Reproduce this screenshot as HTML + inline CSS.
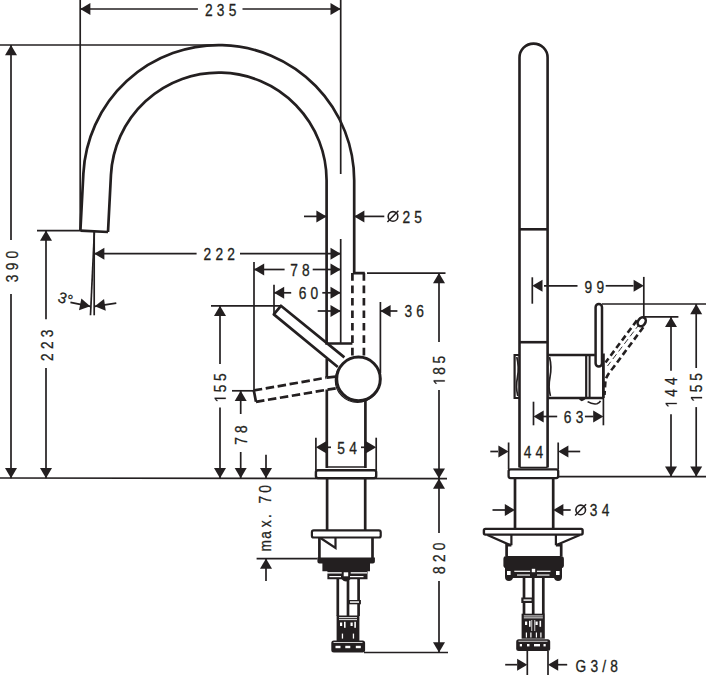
<!DOCTYPE html>
<html><head><meta charset="utf-8"><style>
html,body{margin:0;padding:0;background:#fff;}
svg{display:block;}
text{font-family:"Liberation Sans",sans-serif;fill:#231f20;stroke:#231f20;stroke-width:0.3px;}
</style></head><body>
<svg width="706" height="675" viewBox="0 0 706 675" stroke="#231f20" fill="none">
<line x1="80.2" y1="9" x2="197.9" y2="9" stroke-width="1.7" stroke-linecap="butt"/>
<line x1="242.5" y1="9" x2="340.7" y2="9" stroke-width="1.7" stroke-linecap="butt"/>
<polygon points="80.20,9.00 90.40,3.00 90.40,15.00" stroke="none" fill="#231f20"/>
<polygon points="340.70,9.00 330.50,15.00 330.50,3.00" stroke="none" fill="#231f20"/>
<text transform="translate(220.60,9.40) scale(0.86,1)" x="2.45" y="6.48" font-size="16" letter-spacing="4.9" text-anchor="middle">235</text>
<line x1="80.2" y1="0" x2="80.2" y2="230.6" stroke-width="1.7" stroke-linecap="butt"/>
<line x1="340.7" y1="0" x2="340.7" y2="174" stroke-width="1.7" stroke-linecap="butt"/>
<line x1="340.7" y1="239" x2="340.7" y2="343" stroke-width="1.7" stroke-linecap="butt"/>
<line x1="0" y1="45" x2="217" y2="45" stroke-width="1.7" stroke-linecap="butt"/>
<line x1="11" y1="45" x2="11" y2="240" stroke-width="1.7" stroke-linecap="butt"/>
<line x1="11" y1="294" x2="11" y2="478.2" stroke-width="1.7" stroke-linecap="butt"/>
<polygon points="11.00,45.00 17.00,55.20 5.00,55.20" stroke="none" fill="#231f20"/>
<polygon points="11.00,478.20 5.00,468.00 17.00,468.00" stroke="none" fill="#231f20"/>
<text transform="translate(12.10,266.50) rotate(-90) scale(0.86,1)" x="2.45" y="5.58" font-size="16" letter-spacing="4.9" text-anchor="middle">390</text>
<line x1="37" y1="230.6" x2="80.5" y2="230.6" stroke-width="1.7" stroke-linecap="butt"/>
<line x1="46" y1="230.6" x2="46" y2="319.3" stroke-width="1.7" stroke-linecap="butt"/>
<line x1="46" y1="368" x2="46" y2="478.2" stroke-width="1.7" stroke-linecap="butt"/>
<polygon points="46.00,230.60 52.00,240.80 40.00,240.80" stroke="none" fill="#231f20"/>
<polygon points="46.00,478.20 40.00,468.00 52.00,468.00" stroke="none" fill="#231f20"/>
<text transform="translate(47.30,345.20) rotate(-90) scale(0.86,1)" x="2.45" y="5.58" font-size="16" letter-spacing="4.9" text-anchor="middle">223</text>
<line x1="94.2" y1="231" x2="94.2" y2="315.3" stroke-width="1.7" stroke-linecap="butt"/>
<line x1="94.4" y1="231" x2="90.5" y2="315.3" stroke-width="1.7" stroke-linecap="butt"/>
<line x1="70.4" y1="302.4" x2="90.2" y2="306.3" stroke-width="1.7" stroke-linecap="butt"/>
<polygon points="90.20,306.30 79.03,310.22 81.35,298.44" stroke="none" fill="#231f20"/>
<line x1="116.3" y1="303.2" x2="94.8" y2="306.3" stroke-width="1.7" stroke-linecap="butt"/>
<polygon points="94.80,306.30 104.04,298.91 105.75,310.78" stroke="none" fill="#231f20"/>
<g transform="translate(65.5,298.8) rotate(18)"><text x="0" y="5.2" font-size="15" text-anchor="middle">3°</text></g>
<line x1="94.2" y1="253.7" x2="196.6" y2="253.7" stroke-width="1.7" stroke-linecap="butt"/>
<line x1="240" y1="253.7" x2="340.7" y2="253.7" stroke-width="1.7" stroke-linecap="butt"/>
<polygon points="94.20,253.70 104.40,247.70 104.40,259.70" stroke="none" fill="#231f20"/>
<polygon points="340.70,253.70 330.50,259.70 330.50,247.70" stroke="none" fill="#231f20"/>
<text transform="translate(219.20,253.70) scale(0.86,1)" x="2.45" y="6.48" font-size="16" letter-spacing="4.9" text-anchor="middle">222</text>
<line x1="254" y1="262" x2="254" y2="390.5" stroke-width="1.7" stroke-linecap="butt"/>
<line x1="254" y1="269.5" x2="284.6" y2="269.5" stroke-width="1.7" stroke-linecap="butt"/>
<line x1="312.7" y1="269.5" x2="340.7" y2="269.5" stroke-width="1.7" stroke-linecap="butt"/>
<polygon points="254.00,269.50 264.20,263.50 264.20,275.50" stroke="none" fill="#231f20"/>
<polygon points="340.70,269.50 330.50,275.50 330.50,263.50" stroke="none" fill="#231f20"/>
<text transform="translate(300.00,269.50) scale(0.86,1)" x="2.45" y="6.48" font-size="16" letter-spacing="4.9" text-anchor="middle">78</text>
<line x1="274" y1="284.7" x2="274" y2="313.8" stroke-width="1.7" stroke-linecap="butt"/>
<line x1="274" y1="292.8" x2="291.2" y2="292.8" stroke-width="1.7" stroke-linecap="butt"/>
<line x1="322.3" y1="292.8" x2="340.7" y2="292.8" stroke-width="1.7" stroke-linecap="butt"/>
<polygon points="274.00,292.80 284.20,286.80 284.20,298.80" stroke="none" fill="#231f20"/>
<polygon points="340.70,292.80 330.50,298.80 330.50,286.80" stroke="none" fill="#231f20"/>
<text transform="translate(308.50,292.90) scale(0.86,1)" x="2.45" y="6.48" font-size="16" letter-spacing="4.9" text-anchor="middle">60</text>
<line x1="317.7" y1="311" x2="340.7" y2="311" stroke-width="1.7" stroke-linecap="butt"/>
<polygon points="340.70,311.00 330.50,317.00 330.50,305.00" stroke="none" fill="#231f20"/>
<line x1="380.4" y1="302" x2="380.4" y2="373" stroke-width="1.7" stroke-linecap="butt"/>
<line x1="380.4" y1="311" x2="397.4" y2="311" stroke-width="1.7" stroke-linecap="butt"/>
<polygon points="380.40,311.00 390.60,305.00 390.60,317.00" stroke="none" fill="#231f20"/>
<text transform="translate(414.20,311.00) scale(0.86,1)" x="2.45" y="6.48" font-size="16" letter-spacing="4.9" text-anchor="middle">36</text>
<line x1="211" y1="305.8" x2="281" y2="305.8" stroke-width="1.7" stroke-linecap="butt"/>
<line x1="220" y1="305.8" x2="220" y2="364" stroke-width="1.7" stroke-linecap="butt"/>
<line x1="220" y1="407.6" x2="220" y2="478.2" stroke-width="1.7" stroke-linecap="butt"/>
<polygon points="220.00,305.80 226.00,316.00 214.00,316.00" stroke="none" fill="#231f20"/>
<polygon points="220.00,478.20 214.00,468.00 226.00,468.00" stroke="none" fill="#231f20"/>
<g transform="translate(220.20,398.30) rotate(-90) scale(0.86,1)"><path transform="translate(-4.730,5.504) scale(0.00781,-0.00781)" d="M515,0 L515,1237 L197,1010 L197,1180 L530,1409 L696,1409 L696,0 Z" fill="#231f20" stroke="#231f20" stroke-width="0.3" vector-effect="non-scaling-stroke"/></g>
<text transform="translate(220.20,388.40) rotate(-90) scale(0.86,1)" x="0" y="5.50" font-size="16" text-anchor="middle">5</text>
<text transform="translate(220.20,377.10) rotate(-90) scale(0.86,1)" x="0" y="5.50" font-size="16" text-anchor="middle">5</text>
<line x1="232" y1="390.8" x2="254" y2="390.8" stroke-width="1.7" stroke-linecap="butt"/>
<line x1="240.7" y1="390.8" x2="240.7" y2="414" stroke-width="1.7" stroke-linecap="butt"/>
<line x1="240.7" y1="452" x2="240.7" y2="478.2" stroke-width="1.7" stroke-linecap="butt"/>
<polygon points="240.70,390.80 246.70,401.00 234.70,401.00" stroke="none" fill="#231f20"/>
<polygon points="240.70,478.20 234.70,468.00 246.70,468.00" stroke="none" fill="#231f20"/>
<text transform="translate(241.50,435.00) rotate(-90) scale(0.86,1)" x="2.45" y="5.58" font-size="16" letter-spacing="4.9" text-anchor="middle">78</text>
<line x1="266" y1="454.8" x2="266" y2="478.2" stroke-width="1.7" stroke-linecap="butt"/>
<polygon points="266.00,478.20 260.00,468.00 272.00,468.00" stroke="none" fill="#231f20"/>
<line x1="256.6" y1="558.6" x2="317.5" y2="558.6" stroke-width="1.7" stroke-linecap="butt"/>
<line x1="266" y1="558.6" x2="266" y2="581" stroke-width="1.7" stroke-linecap="butt"/>
<polygon points="266.00,558.60 272.00,568.80 260.00,568.80" stroke="none" fill="#231f20"/>
<text transform="translate(265.30,545.90) rotate(-90) scale(0.86,1)" x="0" y="5.50" font-size="16" text-anchor="middle">m</text>
<text transform="translate(265.30,534.90) rotate(-90) scale(0.86,1)" x="0" y="5.50" font-size="16" text-anchor="middle">a</text>
<text transform="translate(265.30,523.90) rotate(-90) scale(0.86,1)" x="0" y="5.50" font-size="16" text-anchor="middle">x</text>
<text transform="translate(265.30,516.20) rotate(-90) scale(0.86,1)" x="0" y="5.50" font-size="16" text-anchor="middle">.</text>
<text transform="translate(265.30,499.70) rotate(-90) scale(0.86,1)" x="0" y="5.50" font-size="16" text-anchor="middle">7</text>
<text transform="translate(265.30,489.00) rotate(-90) scale(0.86,1)" x="0" y="5.50" font-size="16" text-anchor="middle">0</text>
<line x1="367" y1="273.1" x2="445.5" y2="273.1" stroke-width="1.7" stroke-linecap="butt"/>
<line x1="439" y1="273.1" x2="439" y2="342" stroke-width="1.7" stroke-linecap="butt"/>
<line x1="439" y1="390" x2="439" y2="478.6" stroke-width="1.7" stroke-linecap="butt"/>
<polygon points="439.00,273.10 445.00,283.30 433.00,283.30" stroke="none" fill="#231f20"/>
<polygon points="439.00,478.60 433.00,468.40 445.00,468.40" stroke="none" fill="#231f20"/>
<g transform="translate(439.20,380.90) rotate(-90) scale(0.86,1)"><path transform="translate(-4.730,5.504) scale(0.00781,-0.00781)" d="M515,0 L515,1237 L197,1010 L197,1180 L530,1409 L696,1409 L696,0 Z" fill="#231f20" stroke="#231f20" stroke-width="0.3" vector-effect="non-scaling-stroke"/></g>
<text transform="translate(439.20,371.00) rotate(-90) scale(0.86,1)" x="0" y="5.50" font-size="16" text-anchor="middle">8</text>
<text transform="translate(439.20,359.60) rotate(-90) scale(0.86,1)" x="0" y="5.50" font-size="16" text-anchor="middle">5</text>
<line x1="439" y1="478.6" x2="439" y2="533" stroke-width="1.7" stroke-linecap="butt"/>
<line x1="439" y1="581" x2="439" y2="652.5" stroke-width="1.7" stroke-linecap="butt"/>
<polygon points="439.00,478.60 445.00,488.80 433.00,488.80" stroke="none" fill="#231f20"/>
<polygon points="439.00,652.50 433.00,642.30 445.00,642.30" stroke="none" fill="#231f20"/>
<line x1="364" y1="652.5" x2="448" y2="652.5" stroke-width="1.7" stroke-linecap="butt"/>
<text transform="translate(439.30,558.20) rotate(-90) scale(0.86,1)" x="2.45" y="5.58" font-size="16" letter-spacing="4.9" text-anchor="middle">820</text>
<line x1="315.9" y1="437.7" x2="315.9" y2="470" stroke-width="1.7" stroke-linecap="butt"/>
<line x1="376.2" y1="437.7" x2="376.2" y2="470" stroke-width="1.7" stroke-linecap="butt"/>
<polygon points="315.90,447.30 326.10,441.30 326.10,453.30" stroke="none" fill="#231f20"/>
<polygon points="376.20,447.30 366.00,453.30 366.00,441.30" stroke="none" fill="#231f20"/>
<line x1="326" y1="447.3" x2="331" y2="447.3" stroke-width="1.7" stroke-linecap="butt"/>
<line x1="361" y1="447.3" x2="366" y2="447.3" stroke-width="1.7" stroke-linecap="butt"/>
<text transform="translate(347.10,447.30) scale(0.86,1)" x="2.45" y="6.48" font-size="16" letter-spacing="4.9" text-anchor="middle">54</text>
<line x1="304" y1="216.4" x2="326.4" y2="216.4" stroke-width="1.7" stroke-linecap="butt"/>
<polygon points="326.60,216.40 316.40,222.40 316.40,210.40" stroke="none" fill="#231f20"/>
<line x1="354" y1="216.4" x2="384.3" y2="216.4" stroke-width="1.7" stroke-linecap="butt"/>
<polygon points="354.20,216.40 364.40,210.40 364.40,222.40" stroke="none" fill="#231f20"/>
<circle cx="393" cy="216.4" r="4.8" stroke-width="1.6" fill="none"/>
<line x1="387.40" y1="222.00" x2="398.40" y2="210.80" stroke-width="1.5"/>
<text transform="translate(412.20,216.50) scale(0.86,1)" x="2.45" y="6.48" font-size="16" letter-spacing="4.9" text-anchor="middle">25</text>
<line x1="0" y1="478.0" x2="447" y2="478.7" stroke-width="1.7" stroke-linecap="butt"/>
<path d="M80.4,230.6 L83.39,173.41 A135.5,135.5 0 0 1 354.2,180.5 L354.2,273.1 L364.8,273.1" stroke-width="2.7" fill="none" stroke-linejoin="miter" stroke-linecap="butt"/>
<path d="M108.0,232 L110.95,174.85 A107.9,107.9 0 0 1 326.6,180.5 L326.6,343.5 L352.4,343.5" stroke-width="2.7" fill="none" stroke-linejoin="miter" stroke-linecap="butt"/>
<path d="M80.4,230.6 L108.0,232" stroke-width="2.7" fill="none" stroke-linejoin="miter" stroke-linecap="butt"/>
<line x1="352.4" y1="273.1" x2="352.4" y2="356" stroke-width="2.7" stroke-linecap="butt" stroke-dasharray="7.6 4.85"/>
<line x1="363.9" y1="273.1" x2="363.9" y2="356" stroke-width="2.7" stroke-linecap="butt" stroke-dasharray="7.6 4.85"/>
<line x1="326.8" y1="359" x2="326.8" y2="377.6" stroke-width="2.7" stroke-linecap="butt"/>
<path d="M326.8,377.6 L335.7,376.6" stroke-width="2.7" fill="none" stroke-linejoin="miter" stroke-linecap="butt"/>
<line x1="326.8" y1="389.5" x2="326.8" y2="468" stroke-width="2.7" stroke-linecap="butt"/>
<line x1="365.4" y1="400" x2="365.4" y2="468" stroke-width="2.7" stroke-linecap="butt"/>
<path d="M344.4,357.4 L280.9,305.8 L273.8,314.4 L337.8,367" stroke-width="2.7" fill="none" stroke-linejoin="round" stroke-linecap="butt"/>
<path d="M253.8,390.5 L326.4,377.7" stroke-width="2.7" fill="none" stroke-linejoin="miter" stroke-linecap="butt" stroke-dasharray="8.5 3.6"/>
<path d="M256,401.8 L335.7,388.3" stroke-width="2.7" fill="none" stroke-linejoin="miter" stroke-linecap="butt" stroke-dasharray="8.5 3.6"/>
<path d="M253.8,390.5 L256,401.8" stroke-width="2.7" fill="none" stroke-linejoin="miter" stroke-linecap="butt"/>
<circle cx="357.5" cy="380.2" r="22.2" stroke-width="1.2" fill="#fff"/>
<circle cx="358.5" cy="378.9" r="21.8" stroke-width="3" fill="#fff"/>
<line x1="326.8" y1="467" x2="365.4" y2="467" stroke-width="1.4" stroke-linecap="butt"/>
<rect x="315.9" y="470.3" width="60.3" height="7.8" rx="2" stroke-width="2.4" fill="#fff"/>
<line x1="327.1" y1="478.5" x2="327.1" y2="530.4" stroke-width="2.7" stroke-linecap="butt"/>
<line x1="365.2" y1="478.5" x2="365.2" y2="530.4" stroke-width="2.7" stroke-linecap="butt"/>
<rect x="311.9" y="530.4" width="68.8" height="7.1" rx="1.8" stroke-width="2.2" fill="#fff"/>
<line x1="319.4" y1="537.5" x2="319.4" y2="558" stroke-width="2.7" stroke-linecap="butt"/>
<line x1="372.5" y1="537.5" x2="372.5" y2="558" stroke-width="2.7" stroke-linecap="butt"/>
<path d="M320.5,538 L335.5,548 L335.5,538" stroke-width="2.2" fill="none" stroke-linejoin="miter" stroke-linecap="butt"/>
<path d="M317.4,557.4 H374.9 V561.5 Q374.9,563.5 372.9,563.5 H370 V571.3 H367.5 V579.2 H327.4 V571.3 H322.4 V563.5 H319.4 Q317.4,563.5 317.4,561.5 Z" stroke="none" fill="#231f20"/>
<rect x="324.9" y="572.2" width="16.8" height="1.3" fill="#fff" stroke="none"/>
<rect x="350.7" y="572.2" width="16.3" height="1.3" fill="#fff" stroke="none"/>
<rect x="329.3" y="576" width="11.7" height="1.2" fill="#fff" stroke="none"/>
<rect x="350" y="576" width="13.5" height="1.2" fill="#fff" stroke="none"/>
<rect x="343.7" y="572.3" width="4.5" height="4" fill="#fff" stroke="none"/>
<path d="M341.5,579 Q346,584 350.5,579 Z" stroke="none" fill="#231f20"/>
<line x1="337.8" y1="579" x2="337.8" y2="616" stroke-width="2.7" stroke-linecap="butt"/>
<line x1="348.0" y1="579" x2="348.0" y2="616" stroke-width="2.7" stroke-linecap="butt"/>
<line x1="358.6" y1="579" x2="358.6" y2="616" stroke-width="2.7" stroke-linecap="butt"/>
<rect x="347.9" y="600" width="13" height="4.3" stroke="none" fill="#231f20"/>
<rect x="350" y="601.3" width="9" height="1.5" stroke="none" fill="#fff"/>
<rect x="336.6" y="615.5" width="22.8" height="25.5" stroke="none" fill="#231f20"/>
<rect x="339" y="617.2" width="18" height="0.9" stroke="none" fill="#fff"/>
<rect x="339" y="619.2" width="18" height="0.9" stroke="none" fill="#fff"/>
<rect x="340" y="622.5" width="2.2" height="3.5" stroke="none" fill="#fff"/>
<rect x="344" y="621.8" width="1.6" height="6" stroke="none" fill="#fff"/>
<rect x="350.5" y="622.5" width="2.2" height="3.5" stroke="none" fill="#fff"/>
<rect x="354.3" y="621.8" width="1.6" height="6" stroke="none" fill="#fff"/>
<rect x="341.8" y="633.6" width="1.3" height="5" stroke="none" fill="#fff"/>
<rect x="352.8" y="633.6" width="1.3" height="5" stroke="none" fill="#fff"/>
<rect x="331.3" y="640.4" width="33.8" height="12.2" rx="2.5" stroke="none" fill="#231f20"/>
<rect x="333.5" y="642" width="29" height="0.8" stroke="none" fill="#fff"/>
<rect x="335.5" y="645.8" width="5" height="2.4" stroke="none" fill="#fff"/>
<rect x="345.3" y="645.8" width="5" height="2.4" stroke="none" fill="#fff"/>
<rect x="355.8" y="645.8" width="5" height="2.4" stroke="none" fill="#fff"/>
<path d="M519.5,467.4 L519.5,57.6 A14.05,14.05 0 0 1 547.6,57.6 L547.6,467.4" stroke-width="2.6" fill="none" stroke-linejoin="miter" stroke-linecap="butt"/>
<line x1="519.5" y1="229.3" x2="547.6" y2="229.3" stroke-width="2.6" stroke-linecap="butt"/>
<line x1="519.5" y1="342.2" x2="547.6" y2="342.2" stroke-width="2.6" stroke-linecap="butt"/>
<line x1="519.5" y1="467.4" x2="547.6" y2="467.4" stroke-width="1.4" stroke-linecap="butt"/>
<path d="M547.6,355 L594.9,355" stroke-width="2.7" fill="none" stroke-linejoin="miter" stroke-linecap="butt"/>
<path d="M547.6,398 L603.4,398" stroke-width="2.7" fill="none" stroke-linejoin="miter" stroke-linecap="butt"/>
<line x1="603.4" y1="353.5" x2="603.4" y2="398" stroke-width="2.8" stroke-linecap="butt"/>
<line x1="586.2" y1="355" x2="586.2" y2="398" stroke-width="2.2" stroke-linecap="butt"/>
<line x1="589.6" y1="355" x2="589.6" y2="398" stroke-width="2.0" stroke-linecap="butt"/>
<path d="M519.5,355 L514.6,355 L514.6,398 L519.5,398" stroke-width="2.2" fill="none" stroke-linejoin="miter" stroke-linecap="butt"/>
<path d="M516.8,357 Q519.3,367 517.5,377 Q515.5,387 517.8,396" stroke-width="1.7" fill="none" stroke-linejoin="miter" stroke-linecap="butt"/>
<path d="M549.5,357 Q552,367 550,377 Q548,387 550.4,396" stroke-width="1.7" fill="none" stroke-linejoin="miter" stroke-linecap="butt"/>
<path d="M578.5,398 Q581,404.5 586.5,398 Z" stroke="none" fill="#231f20"/>
<path d="M587.6,401.7 Q592,404.5 597,403.8 Q599.5,403 600.5,400.8" stroke-width="1.6" fill="none" stroke-linejoin="miter" stroke-linecap="butt"/>
<rect x="595.6" y="304" width="6.4" height="62.5" rx="3.2" stroke-width="2.5" fill="#fff"/>
<path d="M636.9,320.4 L605.5,362.5" stroke-width="2.6" fill="none" stroke-linejoin="miter" stroke-linecap="butt" stroke-dasharray="6 3.5"/>
<path d="M643.3,327.2 L613,368 Q607,375 605.5,380 L604.5,395" stroke-width="2.6" fill="none" stroke-linejoin="miter" stroke-linecap="butt" stroke-dasharray="6 3.5"/>
<path d="M639.5,324 L607.5,366" stroke-width="0.9" fill="none" stroke-linejoin="miter" stroke-linecap="butt" stroke-dasharray="6 3.5"/>
<ellipse cx="641.7" cy="321.8" rx="3.6" ry="4.8" transform="rotate(36 641.7 321.8)" stroke-width="2.6" fill="#fff"/>
<line x1="532.3" y1="277.3" x2="532.3" y2="303.7" stroke-width="1.7" stroke-linecap="butt"/>
<line x1="643.8" y1="276.9" x2="643.8" y2="316.9" stroke-width="1.7" stroke-linecap="butt"/>
<line x1="544" y1="285.8" x2="577.5" y2="285.8" stroke-width="1.7" stroke-linecap="butt"/>
<line x1="605.7" y1="285.8" x2="633.5" y2="285.8" stroke-width="1.7" stroke-linecap="butt"/>
<polygon points="532.30,285.80 542.50,279.80 542.50,291.80" stroke="none" fill="#231f20"/>
<polygon points="643.80,285.80 633.60,291.80 633.60,279.80" stroke="none" fill="#231f20"/>
<text transform="translate(594.30,286.50) scale(0.86,1)" x="2.45" y="6.48" font-size="16" letter-spacing="4.9" text-anchor="middle">99</text>
<line x1="602" y1="304" x2="706" y2="304" stroke-width="1.7" stroke-linecap="butt"/>
<line x1="643.8" y1="316.9" x2="678.4" y2="316.9" stroke-width="1.7" stroke-linecap="butt"/>
<line x1="671" y1="316.9" x2="671" y2="370.7" stroke-width="1.7" stroke-linecap="butt"/>
<line x1="671" y1="414.2" x2="671" y2="476.6" stroke-width="1.7" stroke-linecap="butt"/>
<polygon points="671.00,316.90 677.00,327.10 665.00,327.10" stroke="none" fill="#231f20"/>
<polygon points="671.00,476.60 665.00,466.40 677.00,466.40" stroke="none" fill="#231f20"/>
<g transform="translate(671.20,403.50) rotate(-90) scale(0.86,1)"><path transform="translate(-4.730,5.504) scale(0.00781,-0.00781)" d="M515,0 L515,1237 L197,1010 L197,1180 L530,1409 L696,1409 L696,0 Z" fill="#231f20" stroke="#231f20" stroke-width="0.3" vector-effect="non-scaling-stroke"/></g>
<text transform="translate(671.20,393.00) rotate(-90) scale(0.86,1)" x="0" y="5.50" font-size="16" text-anchor="middle">4</text>
<text transform="translate(671.20,381.20) rotate(-90) scale(0.86,1)" x="0" y="5.50" font-size="16" text-anchor="middle">4</text>
<line x1="696.2" y1="304" x2="696.2" y2="368" stroke-width="1.7" stroke-linecap="butt"/>
<line x1="696.2" y1="407.1" x2="696.2" y2="476.6" stroke-width="1.7" stroke-linecap="butt"/>
<polygon points="696.20,304.00 702.20,314.20 690.20,314.20" stroke="none" fill="#231f20"/>
<polygon points="696.20,476.60 690.20,466.40 702.20,466.40" stroke="none" fill="#231f20"/>
<g transform="translate(696.50,397.70) rotate(-90) scale(0.86,1)"><path transform="translate(-4.730,5.504) scale(0.00781,-0.00781)" d="M515,0 L515,1237 L197,1010 L197,1180 L530,1409 L696,1409 L696,0 Z" fill="#231f20" stroke="#231f20" stroke-width="0.3" vector-effect="non-scaling-stroke"/></g>
<text transform="translate(696.50,388.50) rotate(-90) scale(0.86,1)" x="0" y="5.50" font-size="16" text-anchor="middle">5</text>
<text transform="translate(696.50,376.95) rotate(-90) scale(0.86,1)" x="0" y="5.50" font-size="16" text-anchor="middle">5</text>
<line x1="533.5" y1="401.7" x2="533.5" y2="425.3" stroke-width="1.7" stroke-linecap="butt"/>
<line x1="603.4" y1="398" x2="603.4" y2="425.3" stroke-width="1.7" stroke-linecap="butt"/>
<line x1="543" y1="416.5" x2="557.2" y2="416.5" stroke-width="1.7" stroke-linecap="butt"/>
<line x1="584.9" y1="416.5" x2="593.5" y2="416.5" stroke-width="1.7" stroke-linecap="butt"/>
<polygon points="533.50,416.50 543.70,410.50 543.70,422.50" stroke="none" fill="#231f20"/>
<polygon points="603.40,416.50 593.20,422.50 593.20,410.50" stroke="none" fill="#231f20"/>
<text transform="translate(573.60,416.40) scale(0.86,1)" x="2.45" y="6.48" font-size="16" letter-spacing="4.9" text-anchor="middle">63</text>
<line x1="558" y1="476.6" x2="706" y2="476.6" stroke-width="1.7" stroke-linecap="butt"/>
<rect x="508.6" y="469.3" width="49.6" height="8.8" rx="2" stroke-width="2.3" fill="#fff"/>
<line x1="508.6" y1="442.5" x2="508.6" y2="469" stroke-width="1.7" stroke-linecap="butt"/>
<line x1="558.2" y1="442.5" x2="558.2" y2="469" stroke-width="1.7" stroke-linecap="butt"/>
<line x1="490.3" y1="451.5" x2="498" y2="451.5" stroke-width="1.7" stroke-linecap="butt"/>
<polygon points="508.60,451.50 498.40,457.50 498.40,445.50" stroke="none" fill="#231f20"/>
<line x1="568" y1="451.5" x2="580.2" y2="451.5" stroke-width="1.7" stroke-linecap="butt"/>
<polygon points="558.20,451.50 568.40,445.50 568.40,457.50" stroke="none" fill="#231f20"/>
<text transform="translate(533.40,451.50) scale(0.86,1)" x="2.45" y="6.48" font-size="16" letter-spacing="4.9" text-anchor="middle">44</text>
<line x1="515" y1="478.5" x2="515" y2="529" stroke-width="2.7" stroke-linecap="butt"/>
<line x1="553.2" y1="478.5" x2="553.2" y2="529" stroke-width="2.7" stroke-linecap="butt"/>
<line x1="492.5" y1="510" x2="505" y2="510" stroke-width="1.7" stroke-linecap="butt"/>
<polygon points="515.00,510.00 504.80,516.00 504.80,504.00" stroke="none" fill="#231f20"/>
<line x1="563" y1="510" x2="570.7" y2="510" stroke-width="1.7" stroke-linecap="butt"/>
<polygon points="553.20,510.00 563.40,504.00 563.40,516.00" stroke="none" fill="#231f20"/>
<circle cx="580.7" cy="509.9" r="4.8" stroke-width="1.6" fill="none"/>
<line x1="575.10" y1="515.50" x2="586.10" y2="504.30" stroke-width="1.5"/>
<text transform="translate(599.60,509.90) scale(0.86,1)" x="2.45" y="6.48" font-size="16" letter-spacing="4.9" text-anchor="middle">34</text>
<rect x="483.9" y="528.9" width="98.7" height="5.7" rx="1.5" stroke-width="2.4" fill="#fff"/>
<path d="M487.4,535 L510.6,545.2 M511.4,535 L511.4,545.2 M579.9,535 L555.9,545.2 M555.9,535 L555.9,545.2" stroke-width="2.2" fill="none" stroke-linejoin="miter" stroke-linecap="butt"/>
<path d="M511.4,545.2 L506.6,545.2 L506.6,556" stroke-width="2.7" fill="none" stroke-linejoin="miter" stroke-linecap="butt"/>
<path d="M555.9,545.2 L561.2,545.2 L561.2,556" stroke-width="2.7" fill="none" stroke-linejoin="miter" stroke-linecap="butt"/>
<rect x="503.4" y="555.9" width="60.5" height="12.4" rx="3" stroke="none" fill="#231f20"/>
<path d="M505,568 H562 V577 Q562,581 558,581 Q555,581 554,578 H513 Q512,581 509,581 Q505,581 505,577 Z" stroke="none" fill="#231f20"/>
<rect x="507" y="571" width="3.6" height="4" fill="#fff" stroke="none"/>
<rect x="556" y="571" width="3.6" height="4" fill="#fff" stroke="none"/>
<rect x="514.3" y="570.7" width="15.8" height="1.2" fill="#fff" stroke="none"/>
<rect x="536.9" y="570.7" width="13.6" height="1.2" fill="#fff" stroke="none"/>
<rect x="517" y="574.5" width="13" height="1.1" fill="#fff" stroke="none"/>
<rect x="537" y="574.5" width="12.5" height="1.1" fill="#fff" stroke="none"/>
<rect x="531.8" y="568.8" width="3.4" height="3.4" fill="#fff" stroke="none"/>
<line x1="524.0" y1="578" x2="524.0" y2="614" stroke-width="2.7" stroke-linecap="butt"/>
<line x1="533.2" y1="578" x2="533.2" y2="614" stroke-width="2.7" stroke-linecap="butt"/>
<line x1="543.3" y1="578" x2="543.3" y2="614" stroke-width="2.7" stroke-linecap="butt"/>
<rect x="521.3" y="597.5" width="12.2" height="5.5" stroke="none" fill="#231f20"/>
<rect x="523.5" y="599.4" width="8" height="1.4" stroke="none" fill="#fff"/>
<rect x="521.6" y="613.7" width="23.2" height="25" stroke="none" fill="#231f20"/>
<rect x="523.8" y="615.5" width="19" height="0.9" stroke="none" fill="#fff"/>
<rect x="523.8" y="617.4" width="19" height="0.9" stroke="none" fill="#fff"/>
<rect x="525" y="621.5" width="2.2" height="3.5" stroke="none" fill="#fff"/>
<rect x="529" y="620.8" width="1.6" height="6" stroke="none" fill="#fff"/>
<rect x="535.5" y="621.5" width="2.2" height="3.5" stroke="none" fill="#fff"/>
<rect x="539.5" y="620.8" width="1.6" height="6" stroke="none" fill="#fff"/>
<rect x="531.4" y="620" width="0.8" height="11" stroke="none" fill="#fff"/>
<rect x="534.4" y="620" width="0.8" height="11" stroke="none" fill="#fff"/>
<rect x="525.8" y="632.5" width="1.2" height="5" stroke="none" fill="#fff"/>
<rect x="530.3" y="632.5" width="1.2" height="5" stroke="none" fill="#fff"/>
<rect x="535.8" y="632.5" width="1.2" height="5" stroke="none" fill="#fff"/>
<rect x="540.3" y="632.5" width="1.2" height="5" stroke="none" fill="#fff"/>
<rect x="516.2" y="639.2" width="34" height="11.9" rx="2.5" stroke="none" fill="#231f20"/>
<rect x="518.5" y="640.8" width="29" height="0.8" stroke="none" fill="#fff"/>
<rect x="519.8" y="644" width="2.2" height="2.4" stroke="none" fill="#fff"/>
<rect x="527" y="644" width="2.5" height="2.4" stroke="none" fill="#fff"/>
<rect x="534" y="644" width="6" height="2.4" stroke="none" fill="#fff"/>
<rect x="543.5" y="644" width="2.2" height="2.4" stroke="none" fill="#fff"/>
<line x1="527.3" y1="651" x2="527.3" y2="675" stroke-width="1.7" stroke-linecap="butt"/>
<line x1="548" y1="651" x2="548" y2="675" stroke-width="1.7" stroke-linecap="butt"/>
<line x1="505.2" y1="664.7" x2="517" y2="664.7" stroke-width="1.7" stroke-linecap="butt"/>
<polygon points="527.30,664.70 517.10,670.70 517.10,658.70" stroke="none" fill="#231f20"/>
<line x1="558" y1="664.7" x2="567.2" y2="664.7" stroke-width="1.7" stroke-linecap="butt"/>
<polygon points="548.00,664.70 558.20,658.70 558.20,670.70" stroke="none" fill="#231f20"/>
<text transform="translate(596.70,665.30) scale(0.86,1)" x="2.45" y="6.48" font-size="16" letter-spacing="4.9" text-anchor="middle">G3/8</text>
</svg>
</body></html>
